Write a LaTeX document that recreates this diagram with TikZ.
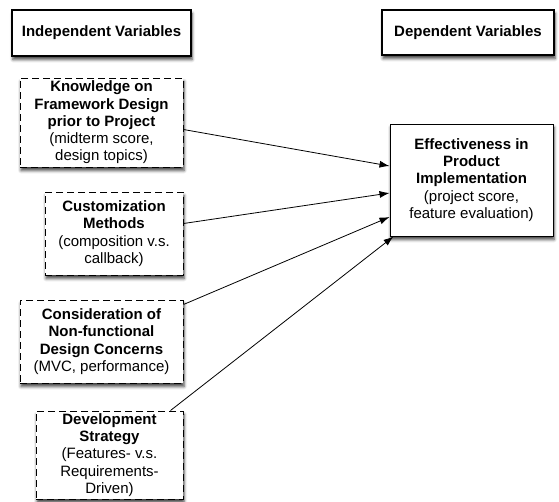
\documentclass[tikz,border=0pt]{standalone}
\usepackage{fontspec}
\setmainfont{Liberation Sans}
\usetikzlibrary{arrows.meta,shadows.blur}

\begin{document}
\begin{tikzpicture}[x=1pt, y=-1pt, thin,
        box/.style = {draw, fill=white, inner sep=0pt, align=center,
            font=\fontsize{15}{17.3}\selectfont,
            blur shadow={shadow xshift=1pt, shadow yshift=-3.5pt, shadow blur radius=3pt, shadow opacity=75}},
        head/.style = {box, line width=1.5pt},
        main/.style = {box, line width=1pt},
        var/.style = {box, line width=1pt, dash pattern=on 7pt off 4pt},
        link/.style = {-{Latex[length=10pt,width=7pt]}, line width=0.8pt}]
        \useasboundingbox (0,0) rectangle (559,501);
        \node[head, minimum width=179pt, minimum height=46pt] at (101.5,33) (1) {\bfseries Independent Variables};
        \node[head, minimum width=172pt, minimum height=45pt] at (468,32.5) (2) {\bfseries Dependent Variables};
        \node[var, minimum width=163pt, minimum height=89pt] at (101.5,122.5) (3) {\bfseries Knowledge on\\ \bfseries Framework Design\\ \bfseries prior to Project\\ (midterm score,\\ design topics)};
        \node[var, minimum width=138pt, minimum height=83pt] at (114,233.5) (4) {\bfseries Customization\\ \bfseries Methods\\ (composition v.s.\\ callback)};
        \node[var, minimum width=163pt, minimum height=83pt] at (101.5,341.5) (5) {\bfseries Consideration of\\ \bfseries Non-functional\\ \bfseries Design Concerns\\ (MVC, performance)};
        \node[var, minimum width=147pt, minimum height=88pt] at (109.5,455) (6) {\bfseries Development\\ \bfseries Strategy\\ (Features- v.s.\\ Requirements-\\ Driven)};
        \node[main, minimum width=163pt, minimum height=112pt] at (471.5,180) (7) {\bfseries Effectiveness in\\ \bfseries Product\\ \bfseries Implementation\\ (project score,\\ feature evaluation)};
        \draw [link] ([yshift=-7pt]3.east) to ([yshift=14pt]7.west);
        \draw [link] ([yshift=10pt]4.east) to ([yshift=-13pt]7.west);
        \draw [link] ([yshift=-5pt]5.north east) to ([yshift=-37pt]7.west);
        \draw [link] ([xshift=-13pt]6.north east) to ([xshift=4pt]7.south west);
    \end{tikzpicture}
\end{document}
